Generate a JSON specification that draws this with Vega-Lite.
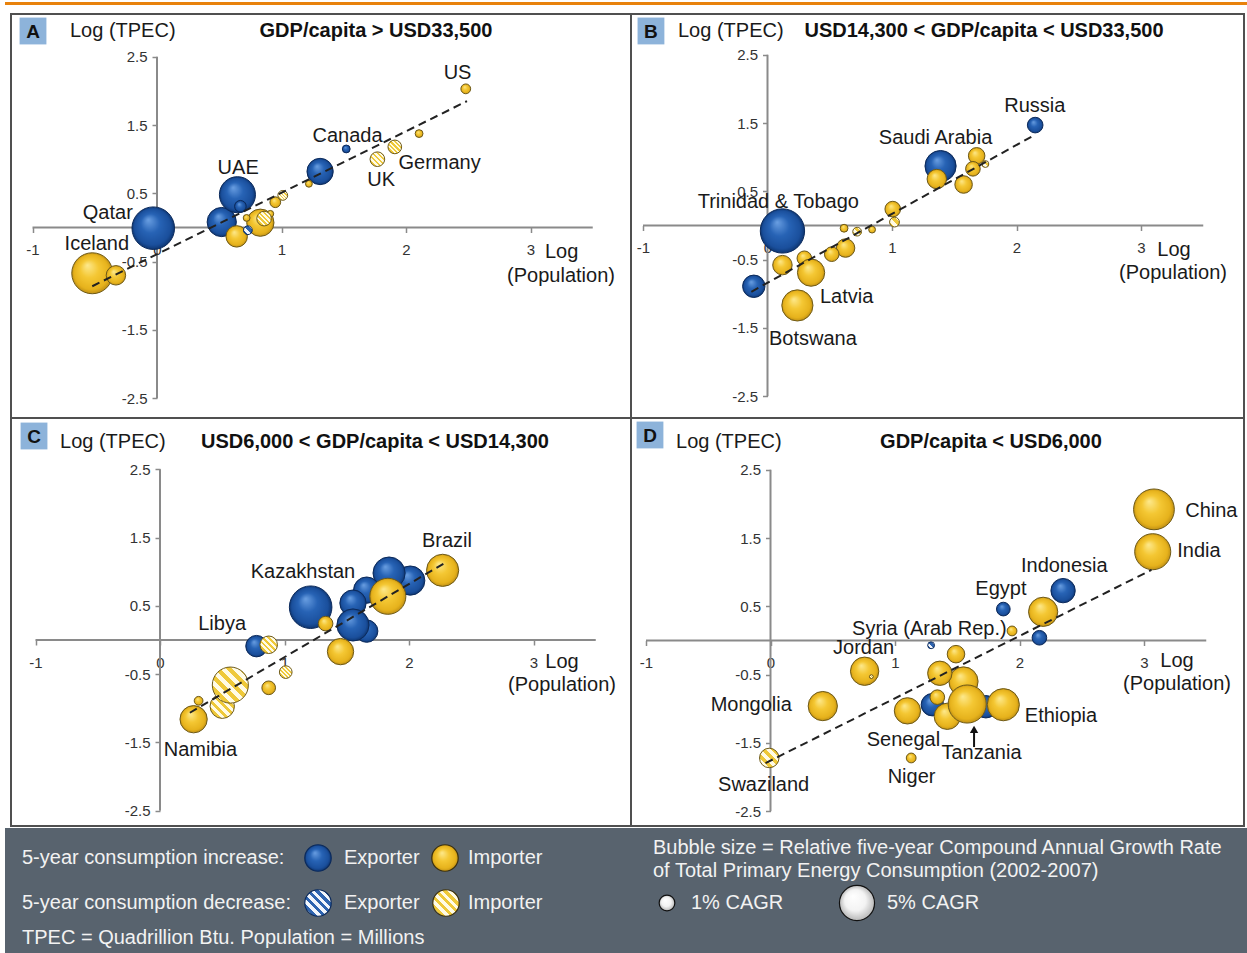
{
  "$schema": "https://vega.github.io/schema/vega-lite/v6.json",
  "padding": {"left": 5, "top": 2, "right": 0, "bottom": 0},
  "background": "#ffffff",
  "bounds": "flush",
  "align": "each",
  "spacing": 0,
  "columns": 3,
  "config": {"view": {"stroke": null}, "concat": {"spacing": 0}, "font": "Liberation Sans"},
  "datasets": {
    "axes": [
      {"x": -1, "y": 0, "x2": 3.5, "y2": 0},
      {"x": 0, "y": -2.5, "x2": 0, "y2": 2.5}
    ],
    "trend": [
      {"p": "A", "x": -0.52, "y": -0.86, "x2": 2.49, "y2": 1.85},
      {"p": "B", "x": -0.13, "y": -0.97, "x2": 2.14, "y2": 1.32},
      {"p": "C", "x": 0.24, "y": -1.065, "x2": 2.28, "y2": 1.12},
      {"p": "D", "x": -0.04, "y": -1.795, "x2": 3.06, "y2": 1.034}
    ],
    "annot": [
      {"p": "A", "k": "box", "x": -0.996, "y": 2.877, "text": "A"},
      {"p": "A", "k": "ylab", "x": -0.699, "y": 2.877, "text": "Log (TPEC)"},
      {"p": "A", "k": "title", "x": 1.759, "y": 2.877, "text": "GDP/capita > USD33,500"},
      {"p": "A", "k": "xlab", "x": 3.25, "y": -0.359, "text": "Log"},
      {"p": "A", "k": "xlab", "x": 3.245, "y": -0.71, "text": "(Population)"},
      {"p": "B", "k": "box", "x": -0.936, "y": 2.848, "text": "B"},
      {"p": "B", "k": "ylab", "x": -0.719, "y": 2.848, "text": "Log (TPEC)"},
      {"p": "B", "k": "title", "x": 1.739, "y": 2.848, "text": "USD14,300 < GDP/capita < USD33,500"},
      {"p": "B", "k": "xlab", "x": 3.265, "y": -0.358, "text": "Log"},
      {"p": "B", "k": "xlab", "x": 3.257, "y": -0.694, "text": "(Population)"},
      {"p": "C", "k": "box", "x": -1.012, "y": 2.987, "text": "C"},
      {"p": "C", "k": "ylab", "x": -0.803, "y": 2.899, "text": "Log (TPEC)"},
      {"p": "C", "k": "title", "x": 1.727, "y": 2.899, "text": "USD6,000 < GDP/capita < USD14,300"},
      {"p": "C", "k": "xlab", "x": 3.229, "y": -0.322, "text": "Log"},
      {"p": "C", "k": "xlab", "x": 3.229, "y": -0.659, "text": "(Population)"},
      {"p": "D", "k": "box", "x": -0.968, "y": 3.009, "text": "D"},
      {"p": "D", "k": "ylab", "x": -0.759, "y": 2.906, "text": "Log (TPEC)"},
      {"p": "D", "k": "title", "x": 1.771, "y": 2.906, "text": "GDP/capita < USD6,000"},
      {"p": "D", "k": "xlab", "x": 3.265, "y": -0.30, "text": "Log"},
      {"p": "D", "k": "xlab", "x": 3.265, "y": -0.637, "text": "(Population)"},
      {"p": "D", "k": "arrow", "x": 1.635, "y": -1.56, "x2": 1.635, "y2": -1.33, "text": ""},
      {"p": "D", "k": "head", "x": 1.635, "y": -1.30, "text": ""}
    ],
    "labels": [
      {"p": "A", "x": 2.414, "y": 2.26, "text": "US"},
      {"p": "A", "x": 1.53, "y": 1.34, "text": "Canada"},
      {"p": "A", "x": 2.27, "y": 0.947, "text": "Germany"},
      {"p": "A", "x": 1.80, "y": 0.70, "text": "UK"},
      {"p": "A", "x": 0.652, "y": 0.874, "text": "UAE"},
      {"p": "A", "x": -0.395, "y": 0.218, "text": "Qatar"},
      {"p": "A", "x": -0.483, "y": -0.236, "text": "Iceland"},
      {"p": "B", "x": 2.147, "y": 1.745, "text": "Russia"},
      {"p": "B", "x": 1.35, "y": 1.278, "text": "Saudi Arabia"},
      {"p": "B", "x": 0.087, "y": 0.342, "text": "Trinidad & Tobago"},
      {"p": "B", "x": 0.636, "y": -1.049, "text": "Latvia"},
      {"p": "B", "x": 0.365, "y": -1.66, "text": "Botswana"},
      {"p": "C", "x": 2.305, "y": 1.445, "text": "Brazil"},
      {"p": "C", "x": 1.148, "y": 0.994, "text": "Kazakhstan"},
      {"p": "C", "x": 0.499, "y": 0.234, "text": "Libya"},
      {"p": "C", "x": 0.325, "y": -1.612, "text": "Namibia"},
      {"p": "D", "x": 3.541, "y": 1.892, "text": "China"},
      {"p": "D", "x": 3.441, "y": 1.305, "text": "India"},
      {"p": "D", "x": 2.36, "y": 1.092, "text": "Indonesia"},
      {"p": "D", "x": 1.851, "y": 0.752, "text": "Egypt"},
      {"p": "D", "x": 1.276, "y": 0.162, "text": "Syria (Arab Rep.)"},
      {"p": "D", "x": 0.748, "y": -0.111, "text": "Jordan"},
      {"p": "D", "x": -0.155, "y": -0.95, "text": "Mongolia"},
      {"p": "D", "x": 2.333, "y": -1.108, "text": "Ethiopia"},
      {"p": "D", "x": 1.068, "y": -1.455, "text": "Senegal"},
      {"p": "D", "x": 1.695, "y": -1.641, "text": "Tanzania"},
      {"p": "D", "x": 1.133, "y": -2.002, "text": "Niger"},
      {"p": "D", "x": -0.055, "y": -2.114, "text": "Swaziland"}
    ],
    "bubbles": [
      {"p": "A", "k": "E", "x": 1.52, "y": 1.15, "c": 0.25},
      {"p": "A", "k": "E", "x": 1.31, "y": 0.82, "c": 2.81},
      {"p": "A", "k": "E", "x": 0.52, "y": 0.08, "c": 3.47},
      {"p": "A", "k": "E", "x": 0.646, "y": 0.48, "c": 5.28},
      {"p": "A", "k": "E", "x": 0.67, "y": 0.31, "c": 0.56},
      {"p": "A", "k": "E", "x": -0.03, "y": -0.01, "c": 7.35},
      {"p": "A", "k": "I", "x": 2.48, "y": 2.03, "c": 0.39},
      {"p": "A", "k": "I", "x": 2.105, "y": 1.375, "c": 0.25},
      {"p": "A", "k": "I", "x": 1.22, "y": 0.64, "c": 0.19},
      {"p": "A", "k": "I", "x": 0.95, "y": 0.37, "c": 0.47},
      {"p": "A", "k": "I", "x": 0.83, "y": 0.07, "c": 3.02},
      {"p": "A", "k": "I", "x": 0.72, "y": 0.14, "c": 0.19},
      {"p": "A", "k": "I", "x": 0.91, "y": 0.2, "c": 0.19},
      {"p": "A", "k": "I", "x": 0.64, "y": -0.13, "c": 1.87},
      {"p": "A", "k": "I", "x": -0.52, "y": -0.67, "c": 6.81},
      {"p": "A", "k": "I", "x": -0.33, "y": -0.70, "c": 1.54},
      {"p": "A", "k": "ED", "x": 0.73, "y": -0.04, "c": 0.31},
      {"p": "A", "k": "ID", "x": 1.91, "y": 1.18, "c": 0.76},
      {"p": "A", "k": "ID", "x": 1.77, "y": 1.0, "c": 0.87},
      {"p": "A", "k": "ID", "x": 1.01, "y": 0.47, "c": 0.39},
      {"p": "A", "k": "ID", "x": 0.86, "y": 0.13, "c": 0.87},
      {"p": "B", "k": "E", "x": 2.15, "y": 1.47, "c": 0.99},
      {"p": "B", "k": "E", "x": 1.39, "y": 0.87, "c": 3.95},
      {"p": "B", "k": "E", "x": 0.12, "y": -0.08, "c": 7.97},
      {"p": "B", "k": "E", "x": -0.11, "y": -0.89, "c": 2.04},
      {"p": "B", "k": "I", "x": 1.36, "y": 0.68, "c": 1.54},
      {"p": "B", "k": "I", "x": 1.68, "y": 1.02, "c": 1.11},
      {"p": "B", "k": "I", "x": 1.65, "y": 0.83, "c": 0.87},
      {"p": "B", "k": "I", "x": 1.575, "y": 0.6, "c": 1.25},
      {"p": "B", "k": "I", "x": 1.006, "y": 0.24, "c": 0.99},
      {"p": "B", "k": "I", "x": 0.615, "y": -0.04, "c": 0.25},
      {"p": "B", "k": "I", "x": 0.84, "y": -0.06, "c": 0.19},
      {"p": "B", "k": "I", "x": 0.627, "y": -0.33, "c": 1.39},
      {"p": "B", "k": "I", "x": 0.516, "y": -0.42, "c": 0.87},
      {"p": "B", "k": "I", "x": 0.296, "y": -0.48, "c": 0.87},
      {"p": "B", "k": "I", "x": 0.12, "y": -0.58, "c": 1.54},
      {"p": "B", "k": "I", "x": 0.35, "y": -0.69, "c": 3.02},
      {"p": "B", "k": "I", "x": 0.24, "y": -1.17, "c": 3.95},
      {"p": "B", "k": "ID", "x": 1.75, "y": 0.9, "c": 0.19},
      {"p": "B", "k": "ID", "x": 1.02, "y": 0.05, "c": 0.39},
      {"p": "B", "k": "ID", "x": 0.72, "y": -0.09, "c": 0.31},
      {"p": "C", "k": "E", "x": 2.01, "y": 0.87, "c": 3.47},
      {"p": "C", "k": "E", "x": 1.84, "y": 0.98, "c": 4.2},
      {"p": "C", "k": "E", "x": 1.66, "y": 0.73, "c": 2.81},
      {"p": "C", "k": "E", "x": 1.55, "y": 0.54, "c": 2.81},
      {"p": "C", "k": "E", "x": 1.66, "y": 0.13, "c": 2.04},
      {"p": "C", "k": "E", "x": 1.55, "y": 0.22, "c": 4.2},
      {"p": "C", "k": "E", "x": 1.21, "y": 0.48, "c": 7.35},
      {"p": "C", "k": "E", "x": 0.775, "y": -0.09, "c": 1.87},
      {"p": "C", "k": "I", "x": 2.27, "y": 1.02, "c": 4.2},
      {"p": "C", "k": "I", "x": 1.83, "y": 0.64, "c": 5.28},
      {"p": "C", "k": "I", "x": 1.33, "y": 0.24, "c": 0.87},
      {"p": "C", "k": "I", "x": 1.45, "y": -0.17, "c": 2.81},
      {"p": "C", "k": "I", "x": 0.873, "y": -0.70, "c": 0.76},
      {"p": "C", "k": "I", "x": 0.31, "y": -0.89, "c": 0.31},
      {"p": "C", "k": "I", "x": 0.27, "y": -1.16, "c": 3.02},
      {"p": "C", "k": "ID", "x": 0.873, "y": -0.07, "c": 1.25},
      {"p": "C", "k": "ID", "x": 1.01, "y": -0.47, "c": 0.65},
      {"p": "C", "k": "ID", "x": 0.5, "y": -0.97, "c": 2.41},
      {"p": "C", "k": "ID", "x": 0.565, "y": -0.66, "c": 5.28},
      {"p": "D", "k": "E", "x": 2.35, "y": 0.73, "c": 2.41},
      {"p": "D", "k": "E", "x": 1.87, "y": 0.46, "c": 0.76},
      {"p": "D", "k": "E", "x": 2.16, "y": 0.04, "c": 0.87},
      {"p": "D", "k": "E", "x": 1.30, "y": -0.94, "c": 2.04},
      {"p": "D", "k": "E", "x": 1.73, "y": -0.97, "c": 2.04},
      {"p": "D", "k": "I", "x": 3.07, "y": 1.30, "c": 5.28},
      {"p": "D", "k": "I", "x": 3.08, "y": 1.92, "c": 6.75},
      {"p": "D", "k": "I", "x": 2.19, "y": 0.42, "c": 3.47},
      {"p": "D", "k": "I", "x": 1.94, "y": 0.14, "c": 0.39},
      {"p": "D", "k": "I", "x": 0.756, "y": -0.45, "c": 3.26},
      {"p": "D", "k": "I", "x": 1.49, "y": -0.2, "c": 1.25},
      {"p": "D", "k": "I", "x": 1.55, "y": -0.6, "c": 3.47},
      {"p": "D", "k": "I", "x": 1.36, "y": -0.48, "c": 2.41},
      {"p": "D", "k": "I", "x": 1.34, "y": -0.83, "c": 0.87},
      {"p": "D", "k": "I", "x": 1.10, "y": -1.03, "c": 2.81},
      {"p": "D", "k": "I", "x": 1.42, "y": -1.11, "c": 2.81},
      {"p": "D", "k": "I", "x": 1.87, "y": -0.94, "c": 4.2},
      {"p": "D", "k": "I", "x": 1.58, "y": -0.93, "c": 5.9},
      {"p": "D", "k": "I", "x": 0.42, "y": -0.96, "c": 3.47},
      {"p": "D", "k": "I", "x": 1.13, "y": -1.72, "c": 0.39},
      {"p": "D", "k": "ED", "x": 1.29, "y": -0.07, "c": 0.19},
      {"p": "D", "k": "ID", "x": -0.01, "y": -1.72, "c": 1.54},
      {"p": "D", "k": "ID", "x": 0.81, "y": -0.53, "c": 0.06}
    ],
    "legtext": [
      {"x": 17, "y": 30, "text": "5-year consumption increase:"},
      {"x": 339, "y": 30, "text": "Exporter"},
      {"x": 463, "y": 30, "text": "Importer"},
      {"x": 17, "y": 75, "text": "5-year consumption decrease:"},
      {"x": 339, "y": 75, "text": "Exporter"},
      {"x": 463, "y": 75, "text": "Importer"},
      {"x": 17, "y": 110, "text": "TPEC = Quadrillion Btu.  Population = Millions"},
      {"x": 648, "y": 20, "text": "Bubble size = Relative five-year Compound Annual Growth Rate"},
      {"x": 648, "y": 43, "text": "of Total Primary Energy Consumption (2002-2007)"},
      {"x": 686, "y": 75, "text": "1% CAGR"},
      {"x": 882, "y": 75, "text": "5% CAGR"}
    ],
    "legsym": [
      {"x": 313, "y": 30, "k": "E", "c": 0},
      {"x": 440, "y": 30, "k": "I", "c": 0},
      {"x": 313, "y": 75, "k": "ED", "c": 0},
      {"x": 441, "y": 75, "k": "ID", "c": 0},
      {"x": 662, "y": 75, "k": "W", "c": 1},
      {"x": 852, "y": 75, "k": "W", "c": 5}
    ]
  },
  "concat": [
    {"width": 6, "height": 3, "view": {"fill": "#e8820c", "stroke": null}, "data": {"values": [{"v": 0}]}, "mark": {"type": "point", "opacity": 0, "size": 0}},
    {"width": 620, "height": 3, "view": {"fill": "#e8820c", "stroke": null}, "data": {"values": [{"v": 0}]}, "mark": {"type": "point", "opacity": 0, "size": 0}},
    {"width": 616, "height": 3, "view": {"fill": "#e8820c", "stroke": null}, "data": {"values": [{"v": 0}]}, "mark": {"type": "point", "opacity": 0, "size": 0}},
    {"width": 6, "height": 9, "data": {"values": [{"v": 0}]}, "mark": {"type": "point", "opacity": 0, "size": 0}},
    {"width": 620, "height": 9, "data": {"values": [{"v": 0}]}, "mark": {"type": "point", "opacity": 0, "size": 0}},
    {"width": 616, "height": 9, "data": {"values": [{"v": 0}]}, "mark": {"type": "point", "opacity": 0, "size": 0}},
    {"width": 6, "height": 404, "data": {"values": [{"v": 0}]}, "mark": {"type": "point", "opacity": 0, "size": 0}},
    {
      "width": 620, "height": 404,
      "view": {"stroke": "#505050", "strokeWidth": 2},
      "encoding": {
        "x": {"field": "x", "type": "quantitative", "scale": {"domain": [-1.1727, 3.8072], "nice": false, "zero": false},
              "axis": {"values": [-1, 0, 1, 2, 3], "offset": -190.5, "domain": false, "grid": false, "title": null, "tickSize": 5, "tickColor": "#8a8a8a", "tickWidth": 1.5, "labelFontSize": 15, "labelFont": "Liberation Sans", "labelColor": "#333333", "labelPadding": 10, "labelFlush": false, "labelOverlap": false, "labelExpr": "(datum.value < 0 ? '-' : '') + format(abs(datum.value), 'd')"}},
        "y": {"field": "y", "type": "quantitative", "scale": {"domain": [-2.7892, 3.1259], "nice": false, "zero": false},
              "axis": {"values": [-2.5, -1.5, -0.5, 0.5, 1.5, 2.5], "offset": -146, "domain": false, "grid": false, "title": null, "tickSize": 5, "tickColor": "#8a8a8a", "tickWidth": 1.5, "labelFontSize": 15, "labelFont": "Liberation Sans", "labelColor": "#333333", "labelPadding": 5, "labelOverlap": false, "labelFlush": false, "labelExpr": "(datum.value < 0 ? '-' : '') + format(abs(datum.value), '.1f')"}}
      },
      "layer": [
        {"data": {"name": "axes"}, "mark": {"type": "rule", "color": "#8a8a8a", "strokeWidth": 2}, "encoding": {"x2": {"field": "x2"}, "y2": {"field": "y2"}}},
        {"data": {"name": "labels"}, "transform": [{"filter": "datum.p === 'A'"}], "mark": {"type": "text", "font": "Liberation Sans", "fontSize": 20, "color": "#1a1a1a", "align": "center", "baseline": "middle"}, "encoding": {"text": {"field": "text"}}},
        {"data": {"name": "annot"}, "transform": [{"filter": "datum.p === 'A' && datum.k === 'box'"}], "mark": {"type": "square", "size": 720, "color": "#8db3da", "opacity": 1}},
        {"data": {"name": "annot"}, "transform": [{"filter": "datum.p === 'A' && datum.k === 'box'"}], "mark": {"type": "text", "font": "Liberation Sans", "fontSize": 19, "fontWeight": "bold", "color": "#111111", "align": "center", "baseline": "middle", "dy": 1}, "encoding": {"text": {"field": "text"}}},
        {"data": {"name": "annot"}, "transform": [{"filter": "datum.p === 'A' && datum.k === 'ylab'"}], "mark": {"type": "text", "font": "Liberation Sans", "fontSize": 20, "color": "#1a1a1a", "align": "left", "baseline": "middle"}, "encoding": {"text": {"field": "text"}}},
        {"data": {"name": "annot"}, "transform": [{"filter": "datum.p === 'A' && datum.k === 'title'"}], "mark": {"type": "text", "font": "Liberation Sans", "fontSize": 20, "fontWeight": "bold", "color": "#111111", "align": "center", "baseline": "middle"}, "encoding": {"text": {"field": "text"}}},
        {"data": {"name": "annot"}, "transform": [{"filter": "datum.p === 'A' && datum.k === 'xlab'"}], "mark": {"type": "text", "font": "Liberation Sans", "fontSize": 20, "color": "#1a1a1a", "align": "center", "baseline": "middle"}, "encoding": {"text": {"field": "text"}}},
        {"data": {"name": "bubbles"}, "transform": [{"filter": "datum.p === 'A' && datum.k === 'E'"}], "mark": {"type": "circle", "opacity": 1, "stroke": "#0b2a5c", "strokeWidth": 1, "fill": {"gradient": "radial", "x1": 0.38, "y1": 0.3, "r1": 0, "x2": 0.5, "y2": 0.5, "r2": 0.5, "stops": [{"offset": 0, "color": "#6a9fe2"}, {"offset": 0.45, "color": "#2763b5"}, {"offset": 0.85, "color": "#1a4f9c"}, {"offset": 1, "color": "#0e3672"}]}}, "encoding": {"size": {"field": "c", "type": "quantitative", "scale": {"domain": [0, 5], "range": [0, 1232]}, "legend": null}}},
        {"data": {"name": "bubbles"}, "transform": [{"filter": "datum.p === 'A' && datum.k === 'I'"}], "mark": {"type": "circle", "opacity": 1, "stroke": "#6e5a18", "strokeWidth": 1, "fill": {"gradient": "radial", "x1": 0.38, "y1": 0.3, "r1": 0, "x2": 0.5, "y2": 0.5, "r2": 0.5, "stops": [{"offset": 0, "color": "#fde98e"}, {"offset": 0.45, "color": "#f4c733"}, {"offset": 0.85, "color": "#e6b21c"}, {"offset": 1, "color": "#c09014"}]}}, "encoding": {"size": {"field": "c", "type": "quantitative", "scale": {"domain": [0, 5], "range": [0, 1232]}, "legend": null}}},
        {"data": {"name": "bubbles"}, "transform": [{"filter": "datum.p === 'A' && datum.k === 'ED'"}], "mark": {"type": "circle", "opacity": 1, "stroke": "#0b2a5c", "strokeWidth": 1, "fill": {"gradient": "linear", "x1": 0, "y1": 1, "x2": 1, "y2": 0, "stops": [{"offset": 0, "color": "#2e64b0"}, {"offset": 0.25, "color": "#2e64b0"}, {"offset": 0.25, "color": "#f2f6fc"}, {"offset": 0.5, "color": "#f2f6fc"}, {"offset": 0.5, "color": "#2e64b0"}, {"offset": 0.75, "color": "#2e64b0"}, {"offset": 0.75, "color": "#f2f6fc"}, {"offset": 1, "color": "#f2f6fc"}]}}, "encoding": {"size": {"field": "c", "type": "quantitative", "scale": {"domain": [0, 5], "range": [0, 1232]}, "legend": null}}},
        {"data": {"name": "bubbles"}, "transform": [{"filter": "datum.p === 'A' && datum.k === 'ID'"}], "mark": {"type": "circle", "opacity": 1, "stroke": "#6e5a18", "strokeWidth": 1, "fill": {"gradient": "linear", "x1": 0, "y1": 1, "x2": 1, "y2": 0, "stops": [{"offset": 0, "color": "#efc93a"}, {"offset": 0.083, "color": "#efc93a"}, {"offset": 0.083, "color": "#fffbe6"}, {"offset": 0.167, "color": "#fffbe6"}, {"offset": 0.167, "color": "#efc93a"}, {"offset": 0.25, "color": "#efc93a"}, {"offset": 0.25, "color": "#fffbe6"}, {"offset": 0.333, "color": "#fffbe6"}, {"offset": 0.333, "color": "#efc93a"}, {"offset": 0.417, "color": "#efc93a"}, {"offset": 0.417, "color": "#fffbe6"}, {"offset": 0.5, "color": "#fffbe6"}, {"offset": 0.5, "color": "#efc93a"}, {"offset": 0.583, "color": "#efc93a"}, {"offset": 0.583, "color": "#fffbe6"}, {"offset": 0.667, "color": "#fffbe6"}, {"offset": 0.667, "color": "#efc93a"}, {"offset": 0.75, "color": "#efc93a"}, {"offset": 0.75, "color": "#fffbe6"}, {"offset": 0.833, "color": "#fffbe6"}, {"offset": 0.833, "color": "#efc93a"}, {"offset": 0.917, "color": "#efc93a"}, {"offset": 0.917, "color": "#fffbe6"}, {"offset": 1, "color": "#fffbe6"}]}}, "encoding": {"size": {"field": "c", "type": "quantitative", "scale": {"domain": [0, 5], "range": [0, 1232]}, "legend": null}}},
        {"data": {"name": "trend"}, "transform": [{"filter": "datum.p === 'A'"}], "mark": {"type": "rule", "color": "#222222", "strokeWidth": 2, "strokeDash": [8, 5]}, "encoding": {"x2": {"field": "x2"}, "y2": {"field": "y2"}}}
      ]
    },
    {
      "width": 613, "height": 404,
      "view": {"stroke": "#505050", "strokeWidth": 2},
      "encoding": {
        "x": {"field": "x", "type": "quantitative", "scale": {"domain": [-1.0964, 3.8273], "nice": false, "zero": false},
              "axis": {"values": [-1, 0, 1, 2, 3], "offset": -192.5, "domain": false, "grid": false, "title": null, "tickSize": 5, "tickColor": "#8a8a8a", "tickWidth": 1.5, "labelFontSize": 15, "labelFont": "Liberation Sans", "labelColor": "#333333", "labelPadding": 10, "labelFlush": false, "labelOverlap": false, "labelExpr": "(datum.value < 0 ? '-' : '') + format(abs(datum.value), 'd')"}},
        "y": {"field": "y", "type": "quantitative", "scale": {"domain": [-2.8184, 3.0966], "nice": false, "zero": false},
              "axis": {"values": [-2.5, -1.5, -0.5, 0.5, 1.5, 2.5], "offset": -136.5, "domain": false, "grid": false, "title": null, "tickSize": 5, "tickColor": "#8a8a8a", "tickWidth": 1.5, "labelFontSize": 15, "labelFont": "Liberation Sans", "labelColor": "#333333", "labelPadding": 5, "labelOverlap": false, "labelFlush": false, "labelExpr": "(datum.value < 0 ? '-' : '') + format(abs(datum.value), '.1f')"}}
      },
      "layer": [
        {"data": {"name": "axes"}, "mark": {"type": "rule", "color": "#8a8a8a", "strokeWidth": 2}, "encoding": {"x2": {"field": "x2"}, "y2": {"field": "y2"}}},
        {"data": {"name": "labels"}, "transform": [{"filter": "datum.p === 'B'"}], "mark": {"type": "text", "font": "Liberation Sans", "fontSize": 20, "color": "#1a1a1a", "align": "center", "baseline": "middle"}, "encoding": {"text": {"field": "text"}}},
        {"data": {"name": "annot"}, "transform": [{"filter": "datum.p === 'B' && datum.k === 'box'"}], "mark": {"type": "square", "size": 720, "color": "#8db3da", "opacity": 1}},
        {"data": {"name": "annot"}, "transform": [{"filter": "datum.p === 'B' && datum.k === 'box'"}], "mark": {"type": "text", "font": "Liberation Sans", "fontSize": 19, "fontWeight": "bold", "color": "#111111", "align": "center", "baseline": "middle", "dy": 1}, "encoding": {"text": {"field": "text"}}},
        {"data": {"name": "annot"}, "transform": [{"filter": "datum.p === 'B' && datum.k === 'ylab'"}], "mark": {"type": "text", "font": "Liberation Sans", "fontSize": 20, "color": "#1a1a1a", "align": "left", "baseline": "middle"}, "encoding": {"text": {"field": "text"}}},
        {"data": {"name": "annot"}, "transform": [{"filter": "datum.p === 'B' && datum.k === 'title'"}], "mark": {"type": "text", "font": "Liberation Sans", "fontSize": 20, "fontWeight": "bold", "color": "#111111", "align": "center", "baseline": "middle"}, "encoding": {"text": {"field": "text"}}},
        {"data": {"name": "annot"}, "transform": [{"filter": "datum.p === 'B' && datum.k === 'xlab'"}], "mark": {"type": "text", "font": "Liberation Sans", "fontSize": 20, "color": "#1a1a1a", "align": "center", "baseline": "middle"}, "encoding": {"text": {"field": "text"}}},
        {"data": {"name": "bubbles"}, "transform": [{"filter": "datum.p === 'B' && datum.k === 'E'"}], "mark": {"type": "circle", "opacity": 1, "stroke": "#0b2a5c", "strokeWidth": 1, "fill": {"gradient": "radial", "x1": 0.38, "y1": 0.3, "r1": 0, "x2": 0.5, "y2": 0.5, "r2": 0.5, "stops": [{"offset": 0, "color": "#6a9fe2"}, {"offset": 0.45, "color": "#2763b5"}, {"offset": 0.85, "color": "#1a4f9c"}, {"offset": 1, "color": "#0e3672"}]}}, "encoding": {"size": {"field": "c", "type": "quantitative", "scale": {"domain": [0, 5], "range": [0, 1232]}, "legend": null}}},
        {"data": {"name": "bubbles"}, "transform": [{"filter": "datum.p === 'B' && datum.k === 'I'"}], "mark": {"type": "circle", "opacity": 1, "stroke": "#6e5a18", "strokeWidth": 1, "fill": {"gradient": "radial", "x1": 0.38, "y1": 0.3, "r1": 0, "x2": 0.5, "y2": 0.5, "r2": 0.5, "stops": [{"offset": 0, "color": "#fde98e"}, {"offset": 0.45, "color": "#f4c733"}, {"offset": 0.85, "color": "#e6b21c"}, {"offset": 1, "color": "#c09014"}]}}, "encoding": {"size": {"field": "c", "type": "quantitative", "scale": {"domain": [0, 5], "range": [0, 1232]}, "legend": null}}},
        {"data": {"name": "bubbles"}, "transform": [{"filter": "datum.p === 'B' && datum.k === 'ID'"}], "mark": {"type": "circle", "opacity": 1, "stroke": "#6e5a18", "strokeWidth": 1, "fill": {"gradient": "linear", "x1": 0, "y1": 1, "x2": 1, "y2": 0, "stops": [{"offset": 0, "color": "#efc93a"}, {"offset": 0.25, "color": "#efc93a"}, {"offset": 0.25, "color": "#fffbe6"}, {"offset": 0.5, "color": "#fffbe6"}, {"offset": 0.5, "color": "#efc93a"}, {"offset": 0.75, "color": "#efc93a"}, {"offset": 0.75, "color": "#fffbe6"}, {"offset": 1, "color": "#fffbe6"}]}}, "encoding": {"size": {"field": "c", "type": "quantitative", "scale": {"domain": [0, 5], "range": [0, 1232]}, "legend": null}}},
        {"data": {"name": "trend"}, "transform": [{"filter": "datum.p === 'B'"}], "mark": {"type": "rule", "color": "#222222", "strokeWidth": 2, "strokeDash": [8, 5]}, "encoding": {"x2": {"field": "x2"}, "y2": {"field": "y2"}}}
      ]
    },
    {"width": 6, "height": 408, "data": {"values": [{"v": 0}]}, "mark": {"type": "point", "opacity": 0, "size": 0}},
    {
      "width": 620, "height": 408,
      "view": {"stroke": "#505050", "strokeWidth": 2},
      "encoding": {
        "x": {"field": "x", "type": "quantitative", "scale": {"domain": [-1.1968, 3.7831], "nice": false, "zero": false},
              "axis": {"values": [-1, 0, 1, 2, 3], "offset": -186, "domain": false, "grid": false, "title": null, "tickSize": 5, "tickColor": "#8a8a8a", "tickWidth": 1.5, "labelFontSize": 15, "labelFont": "Liberation Sans", "labelColor": "#333333", "labelPadding": 10, "labelFlush": false, "labelOverlap": false, "labelExpr": "(datum.value < 0 ? '-' : '') + format(abs(datum.value), 'd')"}},
        "y": {"field": "y", "type": "quantitative", "scale": {"domain": [-2.7233, 3.2504], "nice": false, "zero": false},
              "axis": {"values": [-2.5, -1.5, -0.5, 0.5, 1.5, 2.5], "offset": -149, "domain": false, "grid": false, "title": null, "tickSize": 5, "tickColor": "#8a8a8a", "tickWidth": 1.5, "labelFontSize": 15, "labelFont": "Liberation Sans", "labelColor": "#333333", "labelPadding": 5, "labelOverlap": false, "labelFlush": false, "labelExpr": "(datum.value < 0 ? '-' : '') + format(abs(datum.value), '.1f')"}}
      },
      "layer": [
        {"data": {"name": "axes"}, "mark": {"type": "rule", "color": "#8a8a8a", "strokeWidth": 2}, "encoding": {"x2": {"field": "x2"}, "y2": {"field": "y2"}}},
        {"data": {"name": "labels"}, "transform": [{"filter": "datum.p === 'C'"}], "mark": {"type": "text", "font": "Liberation Sans", "fontSize": 20, "color": "#1a1a1a", "align": "center", "baseline": "middle"}, "encoding": {"text": {"field": "text"}}},
        {"data": {"name": "annot"}, "transform": [{"filter": "datum.p === 'C' && datum.k === 'box'"}], "mark": {"type": "square", "size": 720, "color": "#8db3da", "opacity": 1}},
        {"data": {"name": "annot"}, "transform": [{"filter": "datum.p === 'C' && datum.k === 'box'"}], "mark": {"type": "text", "font": "Liberation Sans", "fontSize": 19, "fontWeight": "bold", "color": "#111111", "align": "center", "baseline": "middle", "dy": 1}, "encoding": {"text": {"field": "text"}}},
        {"data": {"name": "annot"}, "transform": [{"filter": "datum.p === 'C' && datum.k === 'ylab'"}], "mark": {"type": "text", "font": "Liberation Sans", "fontSize": 20, "color": "#1a1a1a", "align": "left", "baseline": "middle"}, "encoding": {"text": {"field": "text"}}},
        {"data": {"name": "annot"}, "transform": [{"filter": "datum.p === 'C' && datum.k === 'title'"}], "mark": {"type": "text", "font": "Liberation Sans", "fontSize": 20, "fontWeight": "bold", "color": "#111111", "align": "center", "baseline": "middle"}, "encoding": {"text": {"field": "text"}}},
        {"data": {"name": "annot"}, "transform": [{"filter": "datum.p === 'C' && datum.k === 'xlab'"}], "mark": {"type": "text", "font": "Liberation Sans", "fontSize": 20, "color": "#1a1a1a", "align": "center", "baseline": "middle"}, "encoding": {"text": {"field": "text"}}},
        {"data": {"name": "bubbles"}, "transform": [{"filter": "datum.p === 'C' && datum.k === 'E'"}], "mark": {"type": "circle", "opacity": 1, "stroke": "#0b2a5c", "strokeWidth": 1, "fill": {"gradient": "radial", "x1": 0.38, "y1": 0.3, "r1": 0, "x2": 0.5, "y2": 0.5, "r2": 0.5, "stops": [{"offset": 0, "color": "#6a9fe2"}, {"offset": 0.45, "color": "#2763b5"}, {"offset": 0.85, "color": "#1a4f9c"}, {"offset": 1, "color": "#0e3672"}]}}, "encoding": {"size": {"field": "c", "type": "quantitative", "scale": {"domain": [0, 5], "range": [0, 1232]}, "legend": null}}},
        {"data": {"name": "bubbles"}, "transform": [{"filter": "datum.p === 'C' && datum.k === 'I'"}], "mark": {"type": "circle", "opacity": 1, "stroke": "#6e5a18", "strokeWidth": 1, "fill": {"gradient": "radial", "x1": 0.38, "y1": 0.3, "r1": 0, "x2": 0.5, "y2": 0.5, "r2": 0.5, "stops": [{"offset": 0, "color": "#fde98e"}, {"offset": 0.45, "color": "#f4c733"}, {"offset": 0.85, "color": "#e6b21c"}, {"offset": 1, "color": "#c09014"}]}}, "encoding": {"size": {"field": "c", "type": "quantitative", "scale": {"domain": [0, 5], "range": [0, 1232]}, "legend": null}}},
        {"data": {"name": "bubbles"}, "transform": [{"filter": "datum.p === 'C' && datum.k === 'ID'"}], "mark": {"type": "circle", "opacity": 1, "stroke": "#6e5a18", "strokeWidth": 1, "fill": {"gradient": "linear", "x1": 0, "y1": 1, "x2": 1, "y2": 0, "stops": [{"offset": 0, "color": "#efc93a"}, {"offset": 0.083, "color": "#efc93a"}, {"offset": 0.083, "color": "#fffbe6"}, {"offset": 0.167, "color": "#fffbe6"}, {"offset": 0.167, "color": "#efc93a"}, {"offset": 0.25, "color": "#efc93a"}, {"offset": 0.25, "color": "#fffbe6"}, {"offset": 0.333, "color": "#fffbe6"}, {"offset": 0.333, "color": "#efc93a"}, {"offset": 0.417, "color": "#efc93a"}, {"offset": 0.417, "color": "#fffbe6"}, {"offset": 0.5, "color": "#fffbe6"}, {"offset": 0.5, "color": "#efc93a"}, {"offset": 0.583, "color": "#efc93a"}, {"offset": 0.583, "color": "#fffbe6"}, {"offset": 0.667, "color": "#fffbe6"}, {"offset": 0.667, "color": "#efc93a"}, {"offset": 0.75, "color": "#efc93a"}, {"offset": 0.75, "color": "#fffbe6"}, {"offset": 0.833, "color": "#fffbe6"}, {"offset": 0.833, "color": "#efc93a"}, {"offset": 0.917, "color": "#efc93a"}, {"offset": 0.917, "color": "#fffbe6"}, {"offset": 1, "color": "#fffbe6"}]}}, "encoding": {"size": {"field": "c", "type": "quantitative", "scale": {"domain": [0, 5], "range": [0, 1232]}, "legend": null}}},
        {"data": {"name": "trend"}, "transform": [{"filter": "datum.p === 'C'"}], "mark": {"type": "rule", "color": "#222222", "strokeWidth": 2, "strokeDash": [8, 5]}, "encoding": {"x2": {"field": "x2"}, "y2": {"field": "y2"}}}
      ]
    },
    {
      "width": 613, "height": 408,
      "view": {"stroke": "#505050", "strokeWidth": 2},
      "encoding": {
        "x": {"field": "x", "type": "quantitative", "scale": {"domain": [-1.1205, 3.8032], "nice": false, "zero": false},
              "axis": {"values": [-1, 0, 1, 2, 3], "offset": -185.5, "domain": false, "grid": false, "title": null, "tickSize": 5, "tickColor": "#8a8a8a", "tickWidth": 1.5, "labelFontSize": 15, "labelFont": "Liberation Sans", "labelColor": "#333333", "labelPadding": 10, "labelFlush": false, "labelOverlap": false, "labelExpr": "(datum.value < 0 ? '-' : '') + format(abs(datum.value), 'd')"}},
        "y": {"field": "y", "type": "quantitative", "scale": {"domain": [-2.716, 3.2577], "nice": false, "zero": false},
              "axis": {"values": [-2.5, -1.5, -0.5, 0.5, 1.5, 2.5], "offset": -139.5, "domain": false, "grid": false, "title": null, "tickSize": 5, "tickColor": "#8a8a8a", "tickWidth": 1.5, "labelFontSize": 15, "labelFont": "Liberation Sans", "labelColor": "#333333", "labelPadding": 5, "labelOverlap": false, "labelFlush": false, "labelExpr": "(datum.value < 0 ? '-' : '') + format(abs(datum.value), '.1f')"}}
      },
      "layer": [
        {"data": {"name": "axes"}, "mark": {"type": "rule", "color": "#8a8a8a", "strokeWidth": 2}, "encoding": {"x2": {"field": "x2"}, "y2": {"field": "y2"}}},
        {"data": {"name": "labels"}, "transform": [{"filter": "datum.p === 'D'"}], "mark": {"type": "text", "font": "Liberation Sans", "fontSize": 20, "color": "#1a1a1a", "align": "center", "baseline": "middle"}, "encoding": {"text": {"field": "text"}}},
        {"data": {"name": "annot"}, "transform": [{"filter": "datum.p === 'D' && datum.k === 'box'"}], "mark": {"type": "square", "size": 720, "color": "#8db3da", "opacity": 1}},
        {"data": {"name": "annot"}, "transform": [{"filter": "datum.p === 'D' && datum.k === 'box'"}], "mark": {"type": "text", "font": "Liberation Sans", "fontSize": 19, "fontWeight": "bold", "color": "#111111", "align": "center", "baseline": "middle", "dy": 1}, "encoding": {"text": {"field": "text"}}},
        {"data": {"name": "annot"}, "transform": [{"filter": "datum.p === 'D' && datum.k === 'ylab'"}], "mark": {"type": "text", "font": "Liberation Sans", "fontSize": 20, "color": "#1a1a1a", "align": "left", "baseline": "middle"}, "encoding": {"text": {"field": "text"}}},
        {"data": {"name": "annot"}, "transform": [{"filter": "datum.p === 'D' && datum.k === 'title'"}], "mark": {"type": "text", "font": "Liberation Sans", "fontSize": 20, "fontWeight": "bold", "color": "#111111", "align": "center", "baseline": "middle"}, "encoding": {"text": {"field": "text"}}},
        {"data": {"name": "annot"}, "transform": [{"filter": "datum.p === 'D' && datum.k === 'xlab'"}], "mark": {"type": "text", "font": "Liberation Sans", "fontSize": 20, "color": "#1a1a1a", "align": "center", "baseline": "middle"}, "encoding": {"text": {"field": "text"}}},
        {"data": {"name": "bubbles"}, "transform": [{"filter": "datum.p === 'D' && datum.k === 'E'"}], "mark": {"type": "circle", "opacity": 1, "stroke": "#0b2a5c", "strokeWidth": 1, "fill": {"gradient": "radial", "x1": 0.38, "y1": 0.3, "r1": 0, "x2": 0.5, "y2": 0.5, "r2": 0.5, "stops": [{"offset": 0, "color": "#6a9fe2"}, {"offset": 0.45, "color": "#2763b5"}, {"offset": 0.85, "color": "#1a4f9c"}, {"offset": 1, "color": "#0e3672"}]}}, "encoding": {"size": {"field": "c", "type": "quantitative", "scale": {"domain": [0, 5], "range": [0, 1232]}, "legend": null}}},
        {"data": {"name": "bubbles"}, "transform": [{"filter": "datum.p === 'D' && datum.k === 'I'"}], "mark": {"type": "circle", "opacity": 1, "stroke": "#6e5a18", "strokeWidth": 1, "fill": {"gradient": "radial", "x1": 0.38, "y1": 0.3, "r1": 0, "x2": 0.5, "y2": 0.5, "r2": 0.5, "stops": [{"offset": 0, "color": "#fde98e"}, {"offset": 0.45, "color": "#f4c733"}, {"offset": 0.85, "color": "#e6b21c"}, {"offset": 1, "color": "#c09014"}]}}, "encoding": {"size": {"field": "c", "type": "quantitative", "scale": {"domain": [0, 5], "range": [0, 1232]}, "legend": null}}},
        {"data": {"name": "bubbles"}, "transform": [{"filter": "datum.p === 'D' && datum.k === 'ED'"}], "mark": {"type": "circle", "opacity": 1, "stroke": "#0b2a5c", "strokeWidth": 1, "fill": {"gradient": "linear", "x1": 0, "y1": 1, "x2": 1, "y2": 0, "stops": [{"offset": 0, "color": "#2e64b0"}, {"offset": 0.25, "color": "#2e64b0"}, {"offset": 0.25, "color": "#f2f6fc"}, {"offset": 0.5, "color": "#f2f6fc"}, {"offset": 0.5, "color": "#2e64b0"}, {"offset": 0.75, "color": "#2e64b0"}, {"offset": 0.75, "color": "#f2f6fc"}, {"offset": 1, "color": "#f2f6fc"}]}}, "encoding": {"size": {"field": "c", "type": "quantitative", "scale": {"domain": [0, 5], "range": [0, 1232]}, "legend": null}}},
        {"data": {"name": "bubbles"}, "transform": [{"filter": "datum.p === 'D' && datum.k === 'ID'"}], "mark": {"type": "circle", "opacity": 1, "stroke": "#6e5a18", "strokeWidth": 1, "fill": {"gradient": "linear", "x1": 0, "y1": 1, "x2": 1, "y2": 0, "stops": [{"offset": 0, "color": "#efc93a"}, {"offset": 0.125, "color": "#efc93a"}, {"offset": 0.125, "color": "#fffbe6"}, {"offset": 0.25, "color": "#fffbe6"}, {"offset": 0.25, "color": "#efc93a"}, {"offset": 0.375, "color": "#efc93a"}, {"offset": 0.375, "color": "#fffbe6"}, {"offset": 0.5, "color": "#fffbe6"}, {"offset": 0.5, "color": "#efc93a"}, {"offset": 0.625, "color": "#efc93a"}, {"offset": 0.625, "color": "#fffbe6"}, {"offset": 0.75, "color": "#fffbe6"}, {"offset": 0.75, "color": "#efc93a"}, {"offset": 0.875, "color": "#efc93a"}, {"offset": 0.875, "color": "#fffbe6"}, {"offset": 1, "color": "#fffbe6"}]}}, "encoding": {"size": {"field": "c", "type": "quantitative", "scale": {"domain": [0, 5], "range": [0, 1232]}, "legend": null}}},
        {"data": {"name": "trend"}, "transform": [{"filter": "datum.p === 'D'"}], "mark": {"type": "rule", "color": "#222222", "strokeWidth": 2, "strokeDash": [8, 5]}, "encoding": {"x2": {"field": "x2"}, "y2": {"field": "y2"}}},
        {"data": {"name": "annot"}, "transform": [{"filter": "datum.p === 'D' && datum.k === 'arrow'"}], "mark": {"type": "rule", "color": "#111111", "strokeWidth": 2}, "encoding": {"x2": {"field": "x2"}, "y2": {"field": "y2"}}},
        {"data": {"name": "annot"}, "transform": [{"filter": "datum.p === 'D' && datum.k === 'head'"}], "mark": {"type": "point", "shape": "triangle-up", "filled": true, "size": 70, "color": "#111111", "opacity": 1}}
      ]
    },
    {"width": 6, "height": 2, "data": {"values": [{"v": 0}]}, "mark": {"type": "point", "opacity": 0, "size": 0}},
    {"width": 620, "height": 2, "data": {"values": [{"v": 0}]}, "mark": {"type": "point", "opacity": 0, "size": 0}},
    {"width": 616, "height": 2, "data": {"values": [{"v": 0}]}, "mark": {"type": "point", "opacity": 0, "size": 0}},
    {"width": 6, "height": 125, "view": {"fill": "#58636e", "stroke": null}, "data": {"values": [{"v": 0}]}, "mark": {"type": "point", "opacity": 0, "size": 0}},
    {"width": 620, "height": 125, "view": {"fill": "#58636e", "stroke": null}, "data": {"values": [{"v": 0}]}, "mark": {"type": "point", "opacity": 0, "size": 0}},
    {
      "width": 616, "height": 125,
      "view": {"fill": "#58636e", "stroke": null},
      "encoding": {
        "x": {"field": "x", "type": "quantitative", "scale": {"domain": [626, 1242], "nice": false, "zero": false}, "axis": null},
        "y": {"field": "y", "type": "quantitative", "scale": {"domain": [0, 125], "reverse": true, "nice": false, "zero": false}, "axis": null}
      },
      "layer": [
        {"data": {"name": "legtext"}, "mark": {"type": "text", "align": "left", "baseline": "middle", "fontSize": 20, "font": "Liberation Sans", "color": "#f2f2f2"}, "encoding": {"text": {"field": "text"}}},
        {"data": {"name": "legsym"}, "transform": [{"filter": "datum.k === 'E'"}], "mark": {"type": "circle", "size": 700, "opacity": 1, "stroke": "#0b2a5c", "strokeWidth": 1.2, "fill": {"gradient": "radial", "x1": 0.38, "y1": 0.3, "r1": 0, "x2": 0.5, "y2": 0.5, "r2": 0.5, "stops": [{"offset": 0, "color": "#6a9fe2"}, {"offset": 0.45, "color": "#2763b5"}, {"offset": 0.85, "color": "#1a4f9c"}, {"offset": 1, "color": "#0e3672"}]}}},
        {"data": {"name": "legsym"}, "transform": [{"filter": "datum.k === 'I'"}], "mark": {"type": "circle", "size": 700, "opacity": 1, "stroke": "#3a3010", "strokeWidth": 1.2, "fill": {"gradient": "radial", "x1": 0.38, "y1": 0.3, "r1": 0, "x2": 0.5, "y2": 0.5, "r2": 0.5, "stops": [{"offset": 0, "color": "#fde98e"}, {"offset": 0.45, "color": "#f4c733"}, {"offset": 0.85, "color": "#e6b21c"}, {"offset": 1, "color": "#c09014"}]}}},
        {"data": {"name": "legsym"}, "transform": [{"filter": "datum.k === 'ED'"}], "mark": {"type": "circle", "size": 700, "opacity": 1, "stroke": "#0b2a5c", "strokeWidth": 1.2, "fill": {"gradient": "linear", "x1": 0, "y1": 1, "x2": 1, "y2": 0, "stops": [{"offset": 0, "color": "#2e64b0"}, {"offset": 0.083, "color": "#2e64b0"}, {"offset": 0.083, "color": "#f2f6fc"}, {"offset": 0.167, "color": "#f2f6fc"}, {"offset": 0.167, "color": "#2e64b0"}, {"offset": 0.25, "color": "#2e64b0"}, {"offset": 0.25, "color": "#f2f6fc"}, {"offset": 0.333, "color": "#f2f6fc"}, {"offset": 0.333, "color": "#2e64b0"}, {"offset": 0.417, "color": "#2e64b0"}, {"offset": 0.417, "color": "#f2f6fc"}, {"offset": 0.5, "color": "#f2f6fc"}, {"offset": 0.5, "color": "#2e64b0"}, {"offset": 0.583, "color": "#2e64b0"}, {"offset": 0.583, "color": "#f2f6fc"}, {"offset": 0.667, "color": "#f2f6fc"}, {"offset": 0.667, "color": "#2e64b0"}, {"offset": 0.75, "color": "#2e64b0"}, {"offset": 0.75, "color": "#f2f6fc"}, {"offset": 0.833, "color": "#f2f6fc"}, {"offset": 0.833, "color": "#2e64b0"}, {"offset": 0.917, "color": "#2e64b0"}, {"offset": 0.917, "color": "#f2f6fc"}, {"offset": 1, "color": "#f2f6fc"}]}}},
        {"data": {"name": "legsym"}, "transform": [{"filter": "datum.k === 'ID'"}], "mark": {"type": "circle", "size": 700, "opacity": 1, "stroke": "#3a3010", "strokeWidth": 1.2, "fill": {"gradient": "linear", "x1": 0, "y1": 1, "x2": 1, "y2": 0, "stops": [{"offset": 0, "color": "#efc93a"}, {"offset": 0.083, "color": "#efc93a"}, {"offset": 0.083, "color": "#fffbe6"}, {"offset": 0.167, "color": "#fffbe6"}, {"offset": 0.167, "color": "#efc93a"}, {"offset": 0.25, "color": "#efc93a"}, {"offset": 0.25, "color": "#fffbe6"}, {"offset": 0.333, "color": "#fffbe6"}, {"offset": 0.333, "color": "#efc93a"}, {"offset": 0.417, "color": "#efc93a"}, {"offset": 0.417, "color": "#fffbe6"}, {"offset": 0.5, "color": "#fffbe6"}, {"offset": 0.5, "color": "#efc93a"}, {"offset": 0.583, "color": "#efc93a"}, {"offset": 0.583, "color": "#fffbe6"}, {"offset": 0.667, "color": "#fffbe6"}, {"offset": 0.667, "color": "#efc93a"}, {"offset": 0.75, "color": "#efc93a"}, {"offset": 0.75, "color": "#fffbe6"}, {"offset": 0.833, "color": "#fffbe6"}, {"offset": 0.833, "color": "#efc93a"}, {"offset": 0.917, "color": "#efc93a"}, {"offset": 0.917, "color": "#fffbe6"}, {"offset": 1, "color": "#fffbe6"}]}}},
        {"data": {"name": "legsym"}, "transform": [{"filter": "datum.k === 'W'"}], "mark": {"type": "circle", "opacity": 1, "stroke": "#111111", "strokeWidth": 1.2, "fill": {"gradient": "radial", "x1": 0.38, "y1": 0.3, "r1": 0, "x2": 0.5, "y2": 0.5, "r2": 0.5, "stops": [{"offset": 0, "color": "#ffffff"}, {"offset": 0.6, "color": "#f3f3f3"}, {"offset": 1, "color": "#b8b8b8"}]}}, "encoding": {"size": {"field": "c", "type": "quantitative", "scale": {"domain": [0, 5], "range": [0, 1018]}, "legend": null}}}
      ]
    }
  ]
}
